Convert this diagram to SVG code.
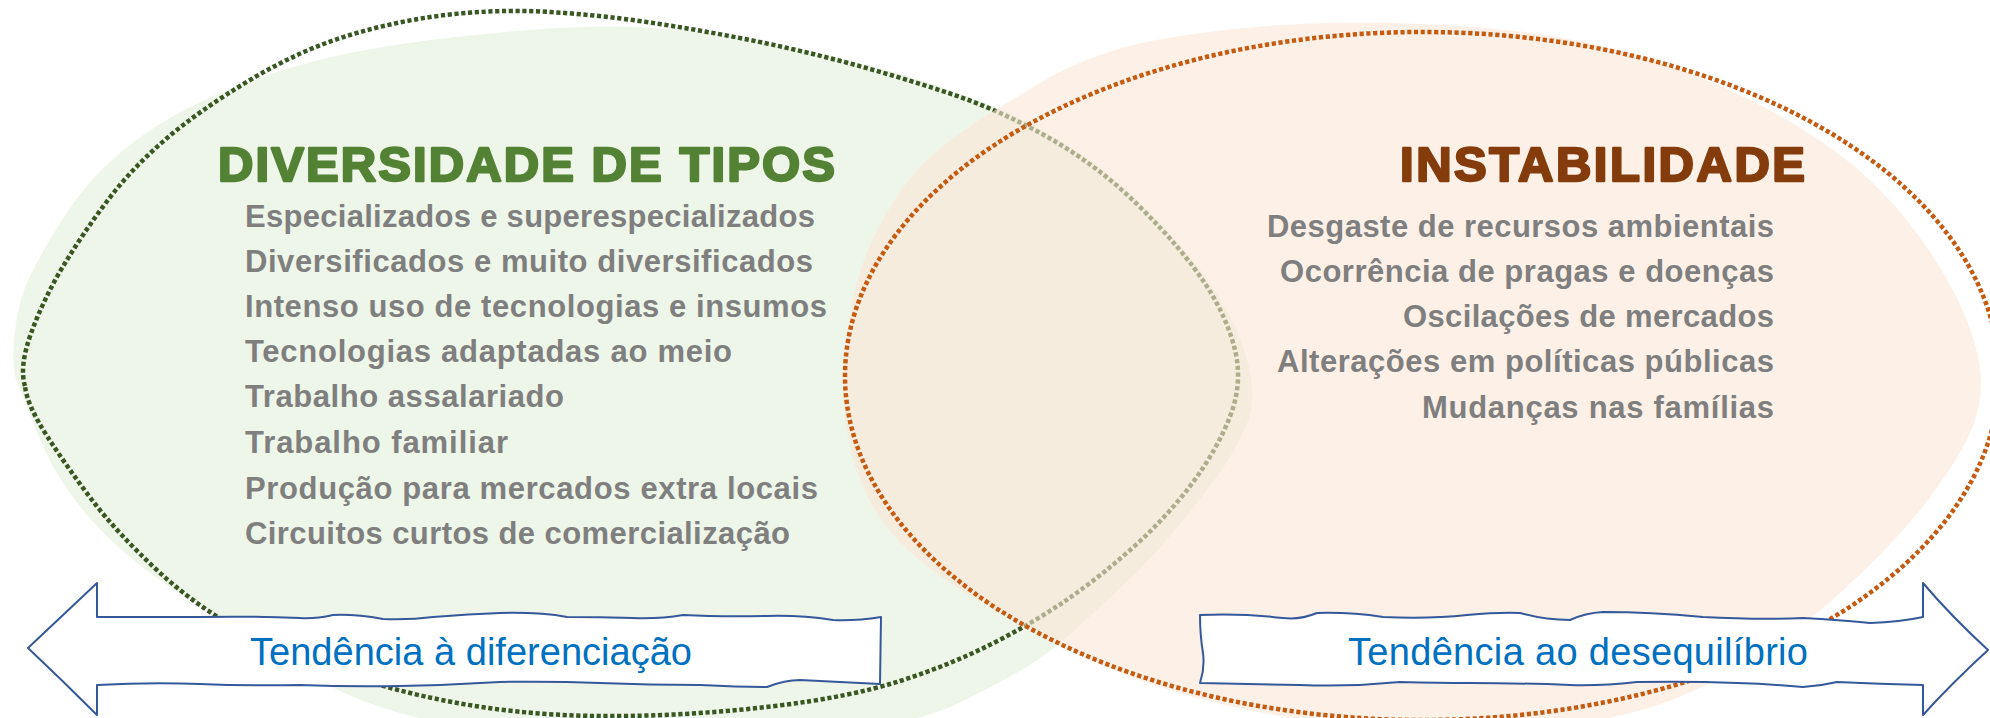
<svg xmlns="http://www.w3.org/2000/svg" width="1990" height="718" viewBox="0 0 1990 718">
<defs>
<style>
.item{font-family:"Liberation Sans",Arial,sans-serif;font-weight:bold;font-size:31px;fill:#7F7F7F}
.title{font-family:"Liberation Sans",Arial,sans-serif;font-weight:bold;font-size:49px;stroke-width:2.4;stroke-linejoin:round}
.arrowtxt{font-family:"Liberation Sans",Arial,sans-serif;font-size:38px;fill:#0070C0}
.arrow{fill:#FFFFFF;stroke:#35589A;stroke-width:2;stroke-linejoin:round}
.dots{fill:none;stroke-width:4.5;stroke-dasharray:4.2 2.6}
</style>
</defs>
<rect x="0" y="0" width="1990" height="718" fill="#FFFFFF"/>

<g id="node-diversidade">
<path fill="#EEF5E9" d="M18,385 Q11,370 14.5,335 Q18,300 30.5,275 Q43,250 63,218.5 Q83,187 108,163.5 Q133,140 166.5,120 Q200,100 250,81.5 Q300,63 350,53 Q400,43 460,36.5 Q520,30 570,27.5 Q620,25 670,29 Q720,33 775,44 Q830,55 880,68.5 Q930,82 980,101 Q1030,120 1075,150 Q1120,180 1157.5,220 Q1195,260 1217.5,295 Q1240,330 1248.5,365 Q1257,400 1246.5,425 Q1236,450 1218,475 Q1200,500 1175,530 Q1150,560 1125,583.5 Q1100,607 1075,630 Q1050,653 1025,668 Q1000,683 960,702.5 Q920,722 835,736 Q750,750 650,747.5 Q550,745 465,728.5 Q380,712 330,686 Q280,660 248.5,636.5 Q217,613 192,600 Q167,587 133.5,560 Q100,533 75,500 Q50,467 37.5,433.5 Q25,400 18,385 Z"/>
<path class="dots" stroke="#385723" d="M25,386 Q19,367 31,333.5 Q43,300 63,266.5 Q83,233 108,200 Q133,167 166.5,138.5 Q200,110 250,80 Q300,50 350,35 Q400,20 450,14.5 Q500,9 550,12 Q600,15 650,22.5 Q700,30 750,40 Q800,50 850,63.5 Q900,77 950,93.5 Q1000,110 1050,138.5 Q1100,167 1141.5,208.5 Q1183,250 1205,283.5 Q1227,317 1235,350 Q1243,383 1230,416.5 Q1217,450 1192,483.5 Q1167,517 1133.5,547 Q1100,577 1066.5,600 Q1033,623 991.5,644 Q950,665 900,681 Q850,697 775,706 Q700,715 625,716 Q550,717 485,707.5 Q420,698 360,679 Q300,660 250,635 Q200,610 158.5,571.5 Q117,533 92,500 Q67,467 47,436 Q27,405 25,386 Z"/>
<text class="title" x="218" y="181" fill="#548235" stroke="#548235" textLength="617" lengthAdjust="spacing">DIVERSIDADE DE TIPOS</text>
<text class="item" x="245" y="227" textLength="570" lengthAdjust="spacing">Especializados e superespecializados</text>
<text class="item" x="245" y="272" textLength="568" lengthAdjust="spacing">Diversificados e muito diversificados</text>
<text class="item" x="245" y="317" textLength="582" lengthAdjust="spacing">Intenso uso de tecnologias e insumos</text>
<text class="item" x="245" y="362" textLength="487" lengthAdjust="spacing">Tecnologias adaptadas ao meio</text>
<text class="item" x="245" y="407" textLength="319" lengthAdjust="spacing">Trabalho assalariado</text>
<text class="item" x="245" y="453" textLength="263" lengthAdjust="spacing">Trabalho familiar</text>
<text class="item" x="245" y="499" textLength="573" lengthAdjust="spacing">Produção para mercados extra locais</text>
<text class="item" x="245" y="544" textLength="545" lengthAdjust="spacing">Circuitos curtos de comercialização</text>
</g>

<g id="node-instabilidade">
<path fill="rgb(252,230,213)" fill-opacity="0.6" d="M847.5,433.5 Q842,400 844,366.5 Q846,333 853,300 Q860,267 871.5,242 Q883,217 900,192 Q917,167 942,147 Q967,127 993.5,111 Q1020,95 1043.5,81 Q1067,67 1100,55 Q1133,43 1183,35.5 Q1233,28 1281.5,25 Q1330,22 1390,23 Q1450,24 1515,31 Q1580,38 1640,56.5 Q1700,75 1750,100 Q1800,125 1840,155 Q1880,185 1912.5,227.5 Q1945,270 1962.5,310 Q1980,350 1981,380 Q1982,410 1967.5,438.5 Q1953,467 1928,500 Q1903,533 1861.5,573 Q1820,613 1780,641.5 Q1740,670 1690,692.5 Q1640,715 1570,725 Q1500,735 1400,728.5 Q1300,722 1233.5,707 Q1167,692 1117,671 Q1067,650 1033.5,631.5 Q1000,613 966.5,593 Q933,573 908,550 Q883,527 868,497 Q853,467 847.5,433.5 Z"/>
<ellipse class="dots" stroke="#C55A11" cx="1422" cy="376" rx="577" ry="344"/>
<text class="title" x="1400" y="181" fill="#843C0C" stroke="#843C0C" textLength="405" lengthAdjust="spacing">INSTABILIDADE</text>
<text class="item" x="1267" y="237" textLength="507" lengthAdjust="spacing">Desgaste de recursos ambientais</text>
<text class="item" x="1280" y="282" textLength="494" lengthAdjust="spacing">Ocorrência de pragas e doenças</text>
<text class="item" x="1403" y="327" textLength="371" lengthAdjust="spacing">Oscilações de mercados</text>
<text class="item" x="1277" y="372" textLength="497" lengthAdjust="spacing">Alterações em políticas públicas</text>
<text class="item" x="1422" y="418" textLength="352" lengthAdjust="spacing">Mudanças nas famílias</text>
</g>

<g id="arrow-diferenciacao">
<path class="arrow" d="M97,583 Q66,612 28,648 Q62,680 97,715 L97,685 Q150,682 200,684 T300,685 Q350,687 400,686 T500,682 Q550,681 600,683 T700,685 Q740,687 767,687 Q785,680 800,680 Q840,682 880,684 L881,617 Q856,621 833,620 Q800,615 767,616 Q720,617 683,615 Q660,619 633,618 Q600,617 567,617 Q540,612 500,613 Q470,614 433,617 Q410,620 383,619 Q355,614 333,615 Q315,619 300,618 Q250,616 200,617 Q150,617 97,617 Z"/>
<text class="arrowtxt" x="250" y="665" textLength="442" lengthAdjust="spacing">Tendência à diferenciação</text>
</g>

<g id="arrow-desequilibrio">
<path class="arrow" d="M1200,615 Q1240,613 1283,618 Q1300,620 1317,613 Q1350,612 1383,617 Q1430,619 1467,615 Q1500,612 1520,613 Q1545,620 1570,620 Q1585,613 1603,612 Q1650,612 1703,617 Q1760,620 1803,618 Q1840,620 1870,623 Q1900,622 1923,617 L1923,583 Q1950,615 1988,650 Q1950,685 1923,715 L1923,685 Q1880,684 1837,682 Q1820,686 1803,687 Q1770,684 1737,683 Q1690,681 1637,682 Q1600,686 1570,685 Q1520,683 1470,683 Q1440,683 1400,682 Q1350,687 1300,685 Q1250,684 1200,683 Q1205,668 1203,653 Q1200,635 1200,615 Z"/>
<text class="arrowtxt" x="1348" y="665" textLength="460" lengthAdjust="spacing">Tendência ao desequilíbrio</text>
</g>

<g id="connectors"></g>
</svg>
